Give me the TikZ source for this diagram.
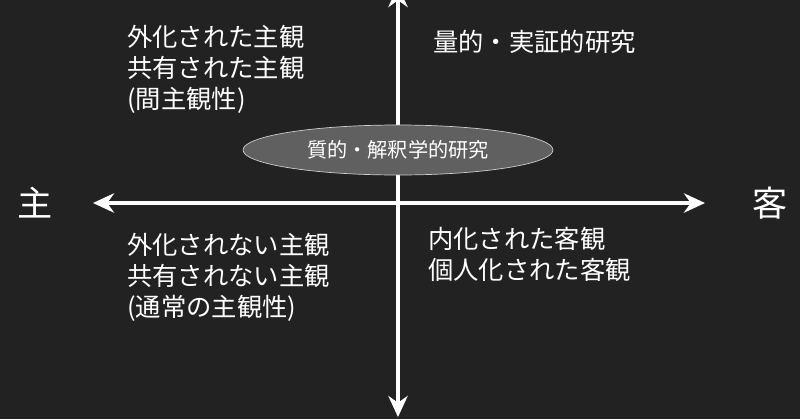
\documentclass[tikz,border=0pt]{standalone}
\usepackage{fontspec}
\setmainfont{Noto Sans CJK JP}
\usetikzlibrary{arrows.meta,shapes.geometric}
\definecolor{bg}{HTML}{222222}
\begin{document}
\begin{tikzpicture}[x=0.02cm,y=-0.02cm,
  ax/.style={white,line width=2.2pt,{Stealth[length=12pt,width=11pt]}-{Stealth[length=12pt,width=11pt]}},
  blk/.style={white,anchor=north west,align=left,font=\fontsize{14.4}{17.5}\selectfont,inner sep=0pt},
  big/.style={white,font=\fontsize{20}{22}\selectfont}]
\fill[bg] (0,0) rectangle (800,419);
\useasboundingbox (0,0) rectangle (800,419);
\coordinate (top) at (398,-14);
\coordinate (bot) at (398,417);
\coordinate (lft) at (93,203);
\coordinate (rgt) at (705,203);
\draw[ax] (top) -- (bot);
\draw[ax] (lft) -- (rgt);
\node[draw=gray!40,fill=gray!75!black,ellipse,inner sep=0pt,
  minimum width=6.2cm,minimum height=1cm,text=white,font=\fontsize{11.5}{13}\selectfont] (el) at (398,150) {質的・解釈学的研究};
\node[big] (s) at (35,203) {主};
\node[big] (o) at (770,203) {客};
\node[blk] (tl) at (127,25) {外化された主観\\共有された主観\\(間主観性)};
\node[blk] (tr) at (433,30) {量的・実証的研究};
\node[blk] (bl) at (127,233) {外化されない主観\\共有されない主観\\(通常の主観性)};
\node[blk] (br) at (428,227) {内化された客観\\個人化された客観};
\end{tikzpicture}
\end{document}
